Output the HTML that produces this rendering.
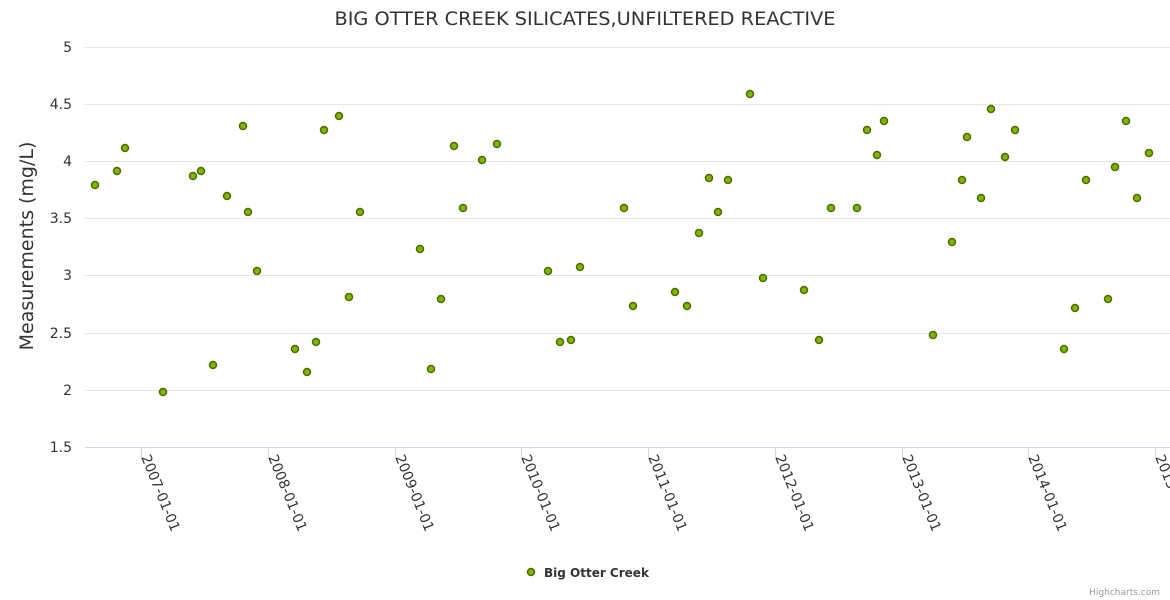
<!DOCTYPE html>
<html><head><meta charset="utf-8"><style>
html,body{margin:0;padding:0;background:#fff;}
svg{display:block;font-family:"DejaVu Sans","Liberation Sans",sans-serif;}
</style></head><body>
<svg width="1170" height="600" xmlns="http://www.w3.org/2000/svg">
<rect width="1170" height="600" fill="#fff"/>
<text x="585" y="25" text-anchor="middle" font-size="19" fill="#333" textLength="501" lengthAdjust="spacingAndGlyphs">BIG OTTER CREEK SILICATES,UNFILTERED REACTIVE</text>
<g stroke="#e6e6e6" stroke-width="1">
<line x1="85" x2="1170" y1="47.5" y2="47.5"/>
<line x1="85" x2="1170" y1="104.5" y2="104.5"/>
<line x1="85" x2="1170" y1="161.5" y2="161.5"/>
<line x1="85" x2="1170" y1="218.5" y2="218.5"/>
<line x1="85" x2="1170" y1="275.5" y2="275.5"/>
<line x1="85" x2="1170" y1="333.5" y2="333.5"/>
<line x1="85" x2="1170" y1="390.5" y2="390.5"/>
</g>
<line x1="85" x2="1170" y1="447.5" y2="447.5" stroke="#ccd6eb"/>
<g font-size="14" fill="#333" text-anchor="end">
<text x="72" y="52">5</text><text x="72" y="109">4.5</text><text x="72" y="166">4</text>
<text x="72" y="223">3.5</text><text x="72" y="280">3</text><text x="72" y="338">2.5</text>
<text x="72" y="395">2</text><text x="72" y="452">1.5</text>
</g>
<text transform="translate(33,246) rotate(-90)" text-anchor="middle" font-size="19" fill="#333">Measurements (mg/L)</text>
<g stroke="#ccd6eb">
<line x1="141.5" x2="141.5" y1="447" y2="457"/><line x1="268.5" x2="268.5" y1="447" y2="457"/>
<line x1="395.5" x2="395.5" y1="447" y2="457"/><line x1="521.5" x2="521.5" y1="447" y2="457"/>
<line x1="648.5" x2="648.5" y1="447" y2="457"/><line x1="775.5" x2="775.5" y1="447" y2="457"/>
<line x1="902.5" x2="902.5" y1="447" y2="457"/><line x1="1028.5" x2="1028.5" y1="447" y2="457"/>
<line x1="1155.5" x2="1155.5" y1="447" y2="457"/>
</g>
<g font-size="14" fill="#333">
<text transform="translate(141,457) rotate(68)">2007-01-01</text>
<text transform="translate(268,457) rotate(68)">2008-01-01</text>
<text transform="translate(395,457) rotate(68)">2009-01-01</text>
<text transform="translate(521,457) rotate(68)">2010-01-01</text>
<text transform="translate(648,457) rotate(68)">2011-01-01</text>
<text transform="translate(775,457) rotate(68)">2012-01-01</text>
<text transform="translate(902,457) rotate(68)">2013-01-01</text>
<text transform="translate(1028,457) rotate(68)">2014-01-01</text>
<text transform="translate(1155,457) rotate(68)">2015-01-01</text>
</g>
<g fill="#7cb800" stroke="#4a6b00" stroke-width="1.5">
<circle cx="95" cy="185" r="3.5"/><circle cx="117" cy="171" r="3.5"/><circle cx="125" cy="148" r="3.5"/>
<circle cx="163" cy="392" r="3.5"/><circle cx="193" cy="176" r="3.5"/><circle cx="201" cy="171" r="3.5"/>
<circle cx="213" cy="365" r="3.5"/><circle cx="227" cy="196" r="3.5"/><circle cx="243" cy="126" r="3.5"/>
<circle cx="248" cy="212" r="3.5"/><circle cx="257" cy="271" r="3.5"/><circle cx="295" cy="349" r="3.5"/>
<circle cx="307" cy="372" r="3.5"/><circle cx="316" cy="342" r="3.5"/><circle cx="324" cy="130" r="3.5"/>
<circle cx="339" cy="116" r="3.5"/><circle cx="349" cy="297" r="3.5"/><circle cx="360" cy="212" r="3.5"/>
<circle cx="420" cy="249" r="3.5"/><circle cx="431" cy="369" r="3.5"/><circle cx="441" cy="299" r="3.5"/>
<circle cx="454" cy="146" r="3.5"/><circle cx="463" cy="208" r="3.5"/><circle cx="482" cy="160" r="3.5"/>
<circle cx="497" cy="144" r="3.5"/><circle cx="548" cy="271" r="3.5"/><circle cx="560" cy="342" r="3.5"/>
<circle cx="571" cy="340" r="3.5"/><circle cx="580" cy="267" r="3.5"/><circle cx="624" cy="208" r="3.5"/>
<circle cx="633" cy="306" r="3.5"/><circle cx="675" cy="292" r="3.5"/><circle cx="687" cy="306" r="3.5"/>
<circle cx="699" cy="233" r="3.5"/><circle cx="709" cy="178" r="3.5"/><circle cx="718" cy="212" r="3.5"/>
<circle cx="728" cy="180" r="3.5"/><circle cx="750" cy="94" r="3.5"/><circle cx="763" cy="278" r="3.5"/>
<circle cx="804" cy="290" r="3.5"/><circle cx="819" cy="340" r="3.5"/><circle cx="831" cy="208" r="3.5"/>
<circle cx="857" cy="208" r="3.5"/><circle cx="867" cy="130" r="3.5"/><circle cx="877" cy="155" r="3.5"/>
<circle cx="884" cy="121" r="3.5"/><circle cx="933" cy="335" r="3.5"/><circle cx="952" cy="242" r="3.5"/>
<circle cx="962" cy="180" r="3.5"/><circle cx="967" cy="137" r="3.5"/><circle cx="981" cy="198" r="3.5"/>
<circle cx="991" cy="109" r="3.5"/><circle cx="1005" cy="157" r="3.5"/><circle cx="1015" cy="130" r="3.5"/>
<circle cx="1064" cy="349" r="3.5"/><circle cx="1075" cy="308" r="3.5"/><circle cx="1086" cy="180" r="3.5"/>
<circle cx="1108" cy="299" r="3.5"/><circle cx="1115" cy="167" r="3.5"/><circle cx="1126" cy="121" r="3.5"/>
<circle cx="1137" cy="198" r="3.5"/><circle cx="1149" cy="153" r="3.5"/>
<circle cx="531" cy="572" r="3.5"/>
</g>
<text x="544" y="577" font-size="12" font-weight="bold" fill="#333">Big Otter Creek</text>
<text x="1160" y="595" font-size="9" fill="#999" text-anchor="end">Highcharts.com</text>
</svg>
</body></html>
